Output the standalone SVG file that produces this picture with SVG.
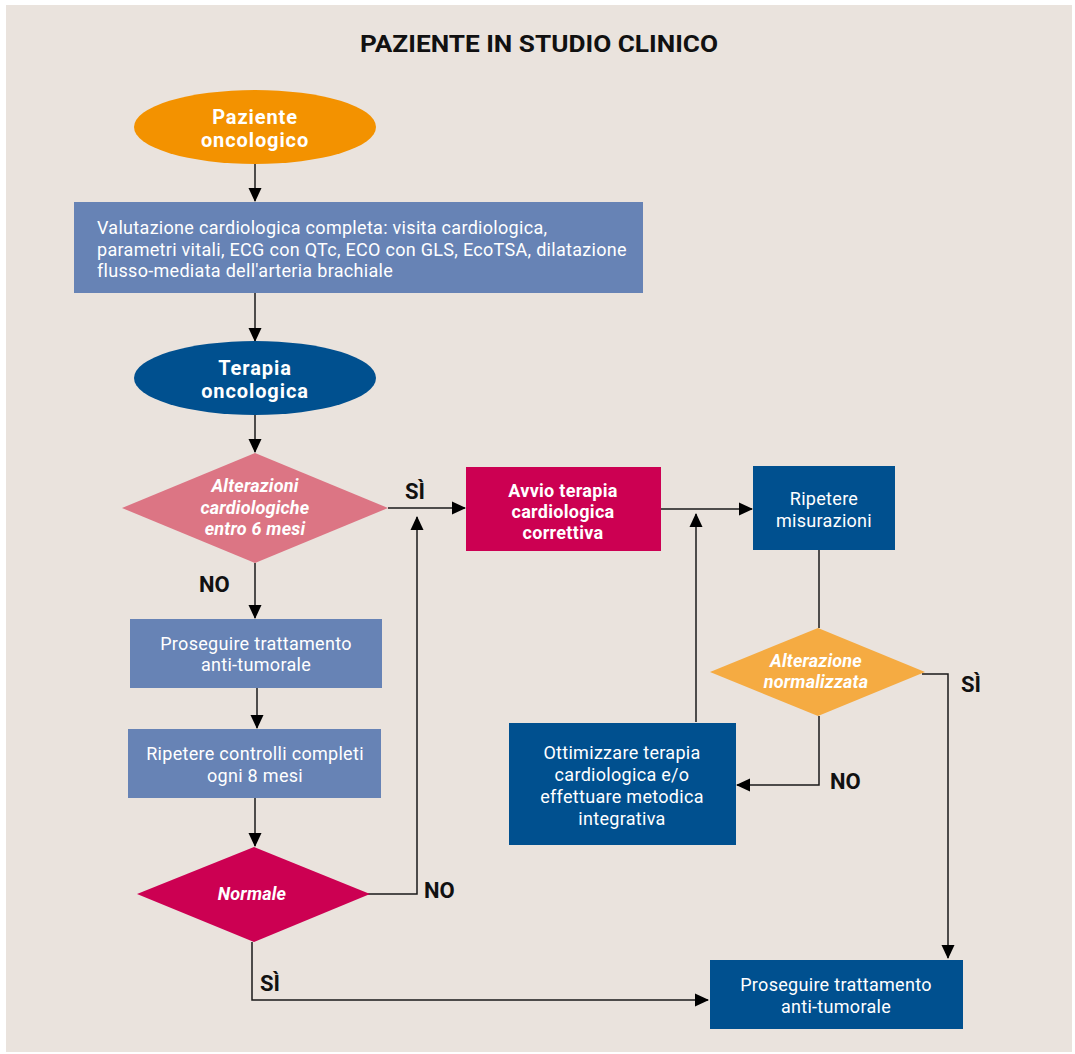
<svg xmlns="http://www.w3.org/2000/svg" width="1075" height="1054" viewBox="0 0 1075 1054">
  <style>
    .t { font-family: Roboto, "Liberation Sans", sans-serif; fill: #ffffff; font-size: 18px; letter-spacing: 0.3px; }
    .c { text-anchor: middle; }
    .b { font-weight: 700; }
    .big { font-size: 20px; letter-spacing: 0.9px; }
    .i { font-style: italic; font-weight: 700; letter-spacing: 0.2px; }
    .lbl { font-family: Roboto, "Liberation Sans", sans-serif; font-weight: 700; font-size: 22px; fill: #111111; }
    .ln { fill: none; stroke: #1a1a1a; stroke-width: 1.5; }
  </style>
  <defs>
    <marker id="arr" viewBox="0 0 14 14" refX="13" refY="7" markerWidth="14" markerHeight="14" markerUnits="userSpaceOnUse" orient="auto">
      <path d="M0,0.5 L14,7 L0,13.5 Z" fill="#000000"/>
    </marker>
  </defs>

  <!-- page -->
  <rect x="0" y="0" width="1075" height="1054" fill="#ffffff"/>
  <rect x="6" y="5" width="1066" height="1047" fill="#eae3dd"/>

  <text x="539" y="52" text-anchor="middle" font-family="Roboto, 'Liberation Sans', sans-serif" font-weight="700" font-size="24" fill="#111111" textLength="358" lengthAdjust="spacingAndGlyphs">PAZIENTE IN STUDIO CLINICO</text>

  <!-- connectors -->
  <g id="connectors">
    <path class="ln" d="M255,164 V201" marker-end="url(#arr)"/>
    <path class="ln" d="M255,293 V341" marker-end="url(#arr)"/>
    <path class="ln" d="M255,415 V452" marker-end="url(#arr)"/>
    <path class="ln" d="M388,508 H465" marker-end="url(#arr)"/>
    <path class="ln" d="M661,509 H752" marker-end="url(#arr)"/>
    <path class="ln" d="M819,550 V628"/>
    <path class="ln" d="M922,674 H948 V958" marker-end="url(#arr)"/>
    <path class="ln" d="M819,716 V785 H737" marker-end="url(#arr)"/>
    <path class="ln" d="M696,722 V514" marker-end="url(#arr)"/>
    <path class="ln" d="M255,563 V618" marker-end="url(#arr)"/>
    <path class="ln" d="M257,688 V728" marker-end="url(#arr)"/>
    <path class="ln" d="M255,798 V846" marker-end="url(#arr)"/>
    <path class="ln" d="M367,894 H417 V517" marker-end="url(#arr)"/>
    <path class="ln" d="M252,942 V1000 H708" marker-end="url(#arr)"/>
    <text class="lbl" x="405" y="499">SÌ</text>
    <text class="lbl" x="199" y="592">NO</text>
    <text class="lbl" x="961" y="692">SÌ</text>
    <text class="lbl" x="830" y="789">NO</text>
    <text class="lbl" x="424" y="898">NO</text>
    <text class="lbl" x="260" y="991">SÌ</text>
  </g>

  <g id="paziente">
    <ellipse cx="255" cy="127" rx="121" ry="37" fill="#f39200"/>
    <text class="t b c big" x="255" y="124">Paziente</text>
    <text class="t b c big" x="255" y="147">oncologico</text>
  </g>

  <g id="valutazione">
    <rect x="74" y="202" width="569" height="91" fill="#6783b5"/>
    <text class="t" x="97" y="234">Valutazione cardiologica completa: visita cardiologica,</text>
    <text class="t" x="97" y="256">parametri vitali, ECG con QTc, ECO con GLS, EcoTSA, dilatazione</text>
    <text class="t" x="97" y="277">flusso-mediata dell'arteria brachiale</text>
  </g>

  <g id="terapia">
    <ellipse cx="255" cy="378" rx="121" ry="37" fill="#00508f"/>
    <text class="t b c big" x="255" y="375">Terapia</text>
    <text class="t b c big" x="255" y="398">oncologica</text>
  </g>

  <g id="alterazioni">
    <polygon points="255,453 388,508 255,563 122,508" fill="#dc7584"/>
    <text class="t i c" x="255" y="492">Alterazioni</text>
    <text class="t i c" x="255" y="514">cardiologiche</text>
    <text class="t i c" x="255" y="535">entro 6 mesi</text>
  </g>

  <g id="avvio">
    <rect x="466" y="467" width="195" height="84" fill="#cc0052"/>
    <text class="t b c" x="563" y="497">Avvio terapia</text>
    <text class="t b c" x="563" y="518">cardiologica</text>
    <text class="t b c" x="563" y="539">correttiva</text>
  </g>

  <g id="ripetere-misurazioni">
    <rect x="753" y="466" width="142" height="84" fill="#00508f"/>
    <text class="t c" x="824" y="505">Ripetere</text>
    <text class="t c" x="824" y="527">misurazioni</text>
  </g>

  <g id="normalizzata">
    <polygon points="818,628 925,672 818,716 710,672" fill="#f5ab42"/>
    <text class="t i c" x="816" y="667">Alterazione</text>
    <text class="t i c" x="816" y="688">normalizzata</text>
  </g>

  <g id="ottimizzare">
    <rect x="509" y="723" width="227" height="122" fill="#00508f"/>
    <text class="t c" x="622" y="759">Ottimizzare terapia</text>
    <text class="t c" x="622" y="781">cardiologica e/o</text>
    <text class="t c" x="622" y="803">effettuare metodica</text>
    <text class="t c" x="622" y="825">integrativa</text>
  </g>

  <g id="proseguire-1">
    <rect x="130" y="619" width="252" height="69" fill="#6783b5"/>
    <text class="t c" x="256" y="650">Proseguire trattamento</text>
    <text class="t c" x="256" y="671">anti-tumorale</text>
  </g>

  <g id="ripetere-controlli">
    <rect x="128" y="729" width="253" height="69" fill="#6783b5"/>
    <text class="t c" x="255" y="760">Ripetere controlli completi</text>
    <text class="t c" x="255" y="782">ogni 8 mesi</text>
  </g>

  <g id="normale">
    <polygon points="254,847 370,894 254,942 137,894" fill="#cc0052"/>
    <text class="t i c" x="252" y="900">Normale</text>
  </g>

  <g id="proseguire-2">
    <rect x="710" y="960" width="253" height="69" fill="#00508f"/>
    <text class="t c" x="836" y="991">Proseguire trattamento</text>
    <text class="t c" x="836" y="1013">anti-tumorale</text>
  </g>
</svg>
